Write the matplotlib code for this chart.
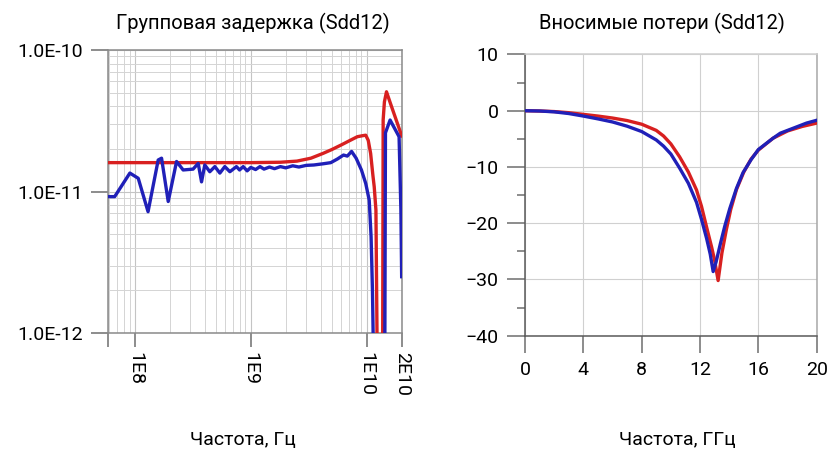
import matplotlib
matplotlib.use('Agg')
import matplotlib.pyplot as plt
from matplotlib.ticker import LogLocator, NullFormatter, FixedLocator, MultipleLocator

plt.rcParams['font.family'] = ['Roboto', 'DejaVu Sans']

# ---------------- data: group delay (Sdd12) ----------------
gd_red_f = [5.9e7, 1.0e8, 5.0e8, 1.0e9, 1.8e9, 2.5e9, 3.3e9, 4.2e9, 5.0e9, 6.0e9,
            7.2e9, 8.3e9, 9.2e9, 9.8e9, 1.03e10, 1.08e10, 1.13e10, 1.16e10, 1.2e10,
            1.235e10, 1.37e10, 1.385e10, 1.42e10, 1.48e10, 1.6e10, 1.75e10, 1.9e10, 2.0e10]
gd_red_v = [1.6e-11, 1.6e-11, 1.6e-11, 1.6e-11, 1.61e-11, 1.64e-11, 1.72e-11, 1.86e-11,
            1.98e-11, 2.13e-11, 2.3e-11, 2.44e-11, 2.48e-11, 2.5e-11, 2.3e-11, 1.86e-11,
            1.3e-11, 1.08e-11, 7.4e-12, 5e-13, 5e-13, 3.2e-11, 4.3e-11, 5.07e-11, 4.2e-11,
            3.4e-11, 2.8e-11, 2.47e-11]

gd_blue_f = [5.9e7, 6.7e7, 9.06e7, 1.07e8, 1.30e8, 1.59e8, 1.70e8, 1.94e8, 2.29e8, 2.61e8,
             3.18e8, 3.52e8, 3.76e8, 4.01e8, 4.43e8, 4.9e8, 5.41e8, 5.97e8, 6.6e8, 7.52e8,
             8.0e8, 8.6e8, 9.3e8, 1.0e9, 1.1e9, 1.2e9, 1.3e9, 1.45e9, 1.6e9, 1.8e9,
             2.0e9, 2.3e9, 2.6e9, 3.0e9, 3.5e9, 4.2e9, 4.9e9, 5.6e9, 6.3e9, 6.8e9,
             7.4e9, 8.1e9, 9.0e9, 9.8e9, 1.05e10, 1.09e10, 1.12e10, 1.15e10, 1.43e10,
             1.45e10, 1.59e10, 1.9e10, 1.97e10, 2.0e10]
gd_blue_v = [9.2e-12, 9.2e-12, 1.35e-11, 1.24e-11, 7.2e-12, 1.67e-11, 1.72e-11, 8.5e-12,
             1.63e-11, 1.42e-11, 1.44e-11, 1.58e-11, 1.17e-11, 1.54e-11, 1.38e-11, 1.5e-11,
             1.35e-11, 1.5e-11, 1.38e-11, 1.5e-11, 1.42e-11, 1.5e-11, 1.4e-11, 1.48e-11,
             1.43e-11, 1.5e-11, 1.44e-11, 1.49e-11, 1.45e-11, 1.5e-11, 1.47e-11, 1.52e-11,
             1.49e-11, 1.53e-11, 1.54e-11, 1.57e-11, 1.6e-11, 1.7e-11, 1.81e-11, 1.78e-11,
             1.92e-11, 1.72e-11, 1.42e-11, 1.14e-11, 8.7e-12, 4.8e-12, 2.0e-12, 5e-13,
             5e-13, 2.6e-11, 3.2e-11, 2.44e-11, 7.4e-12, 2.5e-12]

gd_xticks = [5.9e7, 1e8, 1e9, 1e10, 2e10]
gd_xticklabels = ['', '1E8', '1E9', '1E10', '2E10']
gd_yticks = [1e-12, 1e-11, 1e-10]
gd_yticklabels = ['1.0E-12', '1.0E-11', '1.0E-10']

# ---------------- data: insertion loss (Sdd12) ----------------
il_red_f = [0, 1, 2, 3, 4, 5, 6, 7, 8, 9, 9.5, 10, 10.6, 11.2, 11.76, 12.1, 12.45, 12.8,
            13.0, 13.24, 13.5, 13.8, 14.1, 14.5, 15.0, 15.5, 16.0, 17.0, 18.0, 19.0, 20.0]
il_red_v = [0, -0.05, -0.15, -0.35, -0.65, -0.95, -1.3, -1.75, -2.4, -3.5, -4.5, -5.9, -8.2,
            -10.9, -14.1, -17.0, -20.7, -24.3, -26.6, -30.2, -25.3, -21.2, -17.6, -14.0,
            -10.9, -8.6, -7.0, -4.9, -3.6, -2.8, -2.2]

il_blue_f = [0, 1, 2, 3, 4, 5, 6, 7, 8, 9, 9.5, 10, 10.6, 11.2, 11.76, 12.1, 12.45, 12.7,
             12.9, 13.1, 13.4, 13.7, 14.04, 14.5, 14.95, 15.5, 16.0, 17.0, 17.5, 18.6, 19.3, 20.0]
il_blue_v = [0, -0.05, -0.2, -0.5, -0.95, -1.45, -2.0, -2.75, -3.7, -5.2, -6.3, -7.7, -10.2,
             -12.9, -16.3, -19.3, -22.7, -25.5, -28.6, -26.9, -23.6, -20.5, -17.4, -13.8,
             -11.0, -8.7, -6.9, -4.9, -4.0, -2.9, -2.2, -1.7]

il_xticks = [0, 4, 8, 12, 16, 20]
il_yticks = [-40, -30, -20, -10, 0, 10]

RED = '#d82020'
BLUE = '#2020b8'
TICKC = '#6e6e6e'

fig = plt.figure(figsize=(8.38, 4.51), dpi=100)

# ---------------- left: group delay ----------------
ax1 = fig.add_axes([0.1292, 0.2616, 0.3501, 0.6275])
ax1.set_xscale('log')
ax1.set_yscale('log')
ax1.set_xlim(5.9e7, 2.0e10)
ax1.set_ylim(1e-12, 1e-10)
ax1.plot(gd_red_f, gd_red_v, color=RED, lw=2.4, solid_joinstyle='round', zorder=3)
ax1.plot(gd_blue_f, gd_blue_v, color=BLUE, lw=2.4, solid_joinstyle='round', zorder=4)

ax1.xaxis.set_major_locator(FixedLocator(gd_xticks))
ax1.set_xticklabels(gd_xticklabels, rotation=-90, fontsize=14)
ax1.xaxis.set_minor_locator(LogLocator(base=10, subs=[2, 3, 4, 5, 6, 7, 8, 9], numticks=20))
ax1.xaxis.set_minor_formatter(NullFormatter())
ax1.yaxis.set_major_locator(FixedLocator(gd_yticks))
ax1.set_yticklabels(gd_yticklabels, fontsize=14)
ax1.yaxis.set_minor_locator(LogLocator(base=10, subs=[2, 3, 4, 5, 6, 7, 8, 9], numticks=20))
ax1.yaxis.set_minor_formatter(NullFormatter())

ax1.grid(True, which='major', color='#c4c4c4', lw=0.8)
ax1.grid(True, which='minor', color='#d4d4d4', lw=0.7)
ax1.tick_params(axis='x', which='major', length=10, width=1.1, color=TICKC, pad=4)
ax1.tick_params(axis='y', which='major', length=12, width=1.1, color=TICKC, pad=6)
ax1.tick_params(which='minor', length=0)
for s in ax1.spines.values():
    s.set_color('#8a8a8a')
    s.set_linewidth(1.1)

# ---------------- right: insertion loss ----------------
ax2 = fig.add_axes([0.6265, 0.2557, 0.3481, 0.6235])
ax2.set_xlim(0, 20)
ax2.set_ylim(-40, 10)
ax2.plot(il_red_f, il_red_v, color=RED, lw=2.4, solid_joinstyle='round', zorder=3)
ax2.plot(il_blue_f, il_blue_v, color=BLUE, lw=2.4, solid_joinstyle='round', zorder=4)
ax2.set_xticks(il_xticks)
ax2.set_yticks(il_yticks)
ax2.yaxis.set_minor_locator(MultipleLocator(5))
ax2.tick_params(axis='both', which='major', labelsize=14)
ax2.tick_params(axis='x', which='major', length=12, width=1.1, color=TICKC, pad=6)
ax2.tick_params(axis='y', which='major', length=13, width=1.1, color=TICKC, pad=6)
ax2.tick_params(axis='y', which='minor', length=6, width=1.1, color=TICKC)
ax2.grid(True, which='major', color='#d0d0d0', lw=0.8)
ax2.spines['left'].set_color('#5a5a5a')
ax2.spines['bottom'].set_color('#5a5a5a')
ax2.spines['right'].set_color('#a8a8a8')
ax2.spines['top'].set_color('#d0d0d0')
for s in ax2.spines.values():
    s.set_linewidth(1.1)

# ---------------- titles & axis labels ----------------
fig.text(0.302, 0.9346, 'Групповая задержка (Sdd12)', ha='center', va='baseline', fontsize=14.5)
fig.text(0.790, 0.9346, 'Вносимые потери (Sdd12)', ha='center', va='baseline', fontsize=14.5)
fig.text(0.290, 0.0133, 'Частота, Гц', ha='center', va='baseline', fontsize=14)
fig.text(0.808, 0.0133, 'Частота, ГГц', ha='center', va='baseline', fontsize=14)

fig.savefig('out.png', dpi=100)
